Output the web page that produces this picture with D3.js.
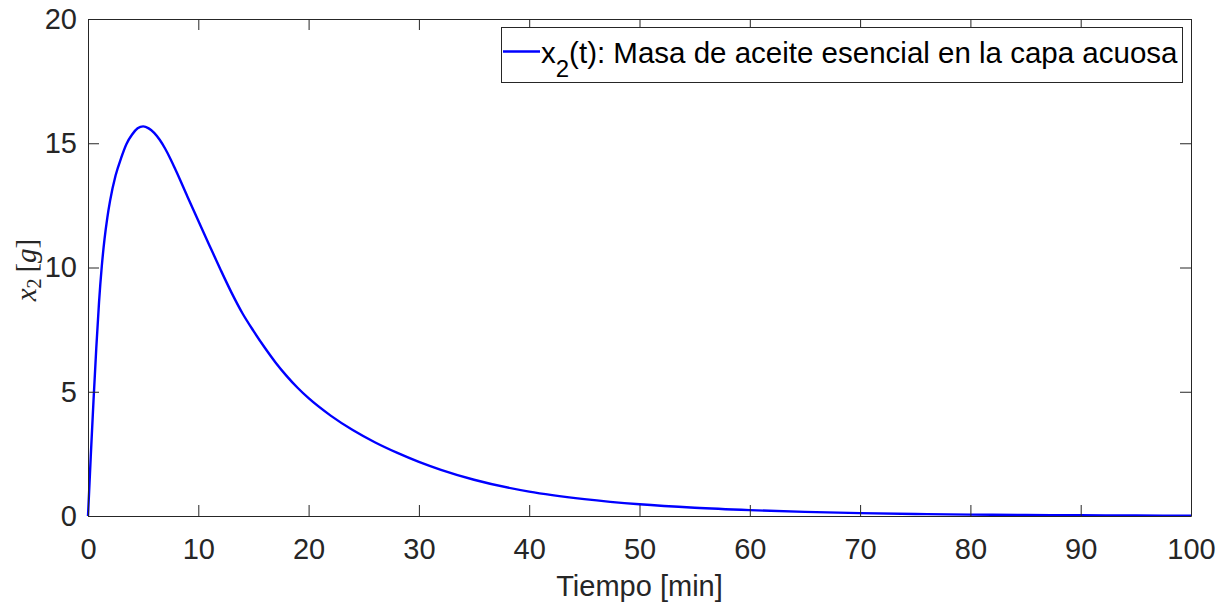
<!DOCTYPE html>
<html>
<head>
<meta charset="utf-8">
<script src="https://cdn.jsdelivr.net/npm/d3@7"></script>
<style>
  html, body { margin: 0; padding: 0; background: #fff; }
  svg { display: block; }
  text { font-family: "Liberation Sans", Arial, Helvetica, sans-serif; }
</style>
</head>
<body>
<svg id="chart" width="1226" height="606"></svg>
<script>
// Time samples [min] and mass of essential oil in the aqueous layer [g]
const tiempo = [0, 0.25, 0.5, 0.75, 1, 1.25, 1.5, 1.75, 2, 2.5, 3, 3.5, 4, 4.5, 5, 5.5, 6, 6.5, 7, 7.5, 8,
  9, 10, 11, 12, 13, 14, 15, 16, 17, 18, 19, 20, 22, 24, 26, 28, 30, 32, 35, 40, 45, 50, 55, 60,
  65, 70, 75, 80, 85, 90, 95, 100];
const masaX2 = [0, 2.4, 4.65, 6.75, 8.6, 10.05, 11.15, 12.0, 12.68, 13.7, 14.4, 14.98, 15.35, 15.6, 15.68,
  15.6, 15.42, 15.14, 14.78, 14.35, 13.87, 12.87, 11.88, 10.9, 9.93, 9.0, 8.16, 7.45, 6.79, 6.18, 5.64,
  5.16, 4.74, 4.04, 3.46, 2.97, 2.55, 2.18, 1.86, 1.46, 0.98, 0.68, 0.47, 0.33, 0.235, 0.165, 0.115,
  0.08, 0.056, 0.04, 0.028, 0.02, 0.014];

const xTicks = [0, 10, 20, 30, 40, 50, 60, 70, 80, 90, 100];
const yTicks = [0, 5, 10, 15, 20];
const legendLabel = "(t): Masa de aceite esencial en la capa acuosa";

const svg = d3.select("#chart");
const m = { left: 88, right: 1191, top: 19, bottom: 516 };
const axisColor = "#262626";
const tickLen = 11;
const fontPx = 29;

const x = d3.scaleLinear().domain([0, 100]).range([m.left, m.right]);
const y = d3.scaleLinear().domain([0, 20]).range([m.bottom, m.top]);

const data = tiempo.map((t, i) => ({ t, v: masaX2[i] }));

// Curve
svg.append("path")
  .datum(data)
  .attr("fill", "none")
  .attr("stroke", "#0000ff")
  .attr("stroke-width", 2.4)
  .attr("stroke-linejoin", "round")
  .attr("d", d3.line().x(d => x(d.t)).y(d => y(d.v)).curve(d3.curveMonotoneX));

// Axes (ticks point inward, box on all sides)
function styleAxis(g) {
  g.selectAll(".domain").attr("stroke", axisColor).attr("stroke-width", 1);
  g.selectAll(".tick line").attr("stroke", axisColor).attr("stroke-width", 1);
  g.selectAll(".tick text")
    .attr("fill", axisColor)
    .style("font-size", fontPx + "px")
    .style("font-family", "'Liberation Sans', Arial, sans-serif");
}

svg.append("g")
  .attr("transform", `translate(0,${m.bottom})`)
  .call(d3.axisBottom(x).tickValues(xTicks).tickSize(-tickLen).tickPadding(22).tickSizeOuter(0))
  .call(styleAxis);

svg.append("g")
  .attr("transform", `translate(0,${m.top})`)
  .call(d3.axisTop(x).tickValues(xTicks).tickSize(-tickLen).tickFormat("").tickSizeOuter(0))
  .call(styleAxis);

svg.append("g")
  .attr("transform", `translate(${m.left},0)`)
  .call(d3.axisLeft(y).tickValues(yTicks).tickSize(-tickLen).tickPadding(11).tickSizeOuter(0))
  .call(styleAxis);

svg.append("g")
  .attr("transform", `translate(${m.right},0)`)
  .call(d3.axisRight(y).tickValues(yTicks).tickSize(-tickLen).tickFormat("").tickSizeOuter(0))
  .call(styleAxis);

// X axis title
svg.append("text")
  .attr("x", (m.left + m.right) / 2)
  .attr("y", 596)
  .attr("text-anchor", "middle")
  .attr("fill", axisColor)
  .style("font-size", fontPx + "px")
  .text("Tiempo [min]");

// Y axis title (math style)
const yl = svg.append("text")
  .attr("transform", `translate(36,270) rotate(-90)`)
  .attr("text-anchor", "middle")
  .attr("fill", axisColor)
  .style("font-family", "'Liberation Serif', 'DejaVu Serif', serif")
  .style("font-size", "29px");
yl.append("tspan").style("font-style", "italic").text("x");
yl.append("tspan").attr("dy", 5).style("font-size", "20px").text("2");
yl.append("tspan").attr("dy", -5).text("\u2009[");
yl.append("tspan").style("font-style", "italic").text("g");
yl.append("tspan").text("]");

// Legend
const lg = svg.append("g");
lg.append("rect")
  .attr("x", 501.5).attr("y", 27.5)
  .attr("width", 681).attr("height", 55)
  .attr("fill", "#fff")
  .attr("stroke", axisColor)
  .attr("stroke-width", 1);
lg.append("line")
  .attr("x1", 503).attr("x2", 540)
  .attr("y1", 51.5).attr("y2", 51.5)
  .attr("stroke", "#0000ff")
  .attr("stroke-width", 2.4);
const lt = lg.append("text")
  .attr("x", 541)
  .attr("y", 63)
  .attr("fill", "#000")
  .style("font-size", "29.5px");
lt.append("tspan").text("x");
lt.append("tspan").attr("dy", 14).style("font-size", "24px").text("2");
lt.append("tspan").attr("dy", -14).text(legendLabel);
</script>
</body>
</html>
